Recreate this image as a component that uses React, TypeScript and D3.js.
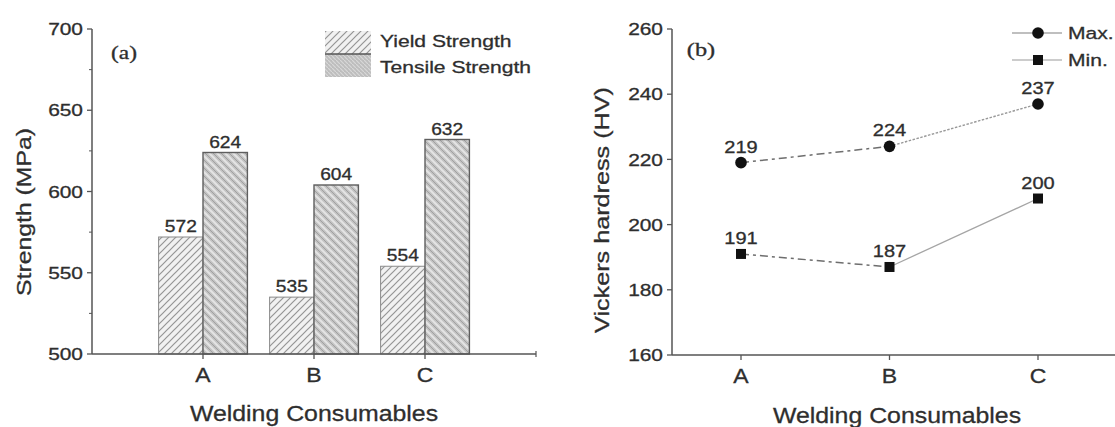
import React from "react";
import * as d3 from "d3";

// ---------- data ----------
const categories = ["A", "B", "C"];
const yieldStrength = [572, 535, 554];
const tensileStrength = [624, 604, 632];
const strengthTicks = [500, 550, 600, 650, 700];
const strengthMinorTicks = [525, 575, 625, 675];

const maxHardness = [219, 224, 237];
const minHardness = [191, 187, 208];
const maxLabels = ["219", "224", "237"];
const minLabels = ["191", "187", "200"];
const hardnessTicks = [160, 180, 200, 220, 240, 260];

const W = 1115;
const H = 427;
const SANS = "'Liberation Sans', Arial, Helvetica, sans-serif";
const SERIF = "'Liberation Serif', 'Times New Roman', serif";
const AXIS = "#555";
const TXT = "#2e2e2e";

type TProps = {
  x: number;
  y: number;
  size: number;
  sx?: number;
  rot?: number;
  anchor?: "start" | "middle" | "end";
  fill?: string;
  family?: string;
  dy?: string;
  children: React.ReactNode;
};
const T = ({ x, y, size, sx = 1, rot = 0, anchor = "middle", fill = TXT, family = SANS, dy, children }: TProps) => (
  <text
    transform={`translate(${x},${y})${rot ? ` rotate(${rot})` : ""} scale(${sx},1)`}
    fontSize={size}
    textAnchor={anchor}
    fill={fill}
    stroke={fill}
    strokeWidth={0.3}
    fontFamily={family}
    dy={dy}
  >
    {children}
  </text>
);

export default function App() {
  // ---------- panel (a) scales ----------
  const xa = d3.scaleLinear().domain([0, 4]).range([92, 536]);
  const ya = d3.scaleLinear().domain([500, 700]).range([354, 29]);
  const bw = 0.4 * (xa(2) - xa(1));

  // ---------- panel (b) scales ----------
  const xb = d3.scaleLinear().domain([1, 3]).range([741, 1038]);
  const yb = d3.scaleLinear().domain([160, 260]).range([355, 29]);
  const axisBLeft = 672;

  const lineGen = d3
    .line<[number, number]>()
    .x((d) => xb(d[0]))
    .y((d) => yb(d[1]));

  const seg = (vals: number[], i: number) =>
    lineGen([
      [i + 1, vals[i]],
      [i + 2, vals[i + 1]],
    ]) as string;

  return (
    <svg width={W} height={H} style={{ position: "absolute", left: 0, top: 0, background: "#fff" }}>
      <defs>
        <pattern id="yieldPat" patternUnits="userSpaceOnUse" width={7} height={7}>
          <rect width={7} height={7} fill="#f1f1f1" />
          <path d="M-1,1 l2,-2 M0,7 l7,-7 M6,8 l2,-2" stroke="#959595" strokeWidth={1.2} />
        </pattern>
        <pattern id="tensilePat" patternUnits="userSpaceOnUse" width={8} height={8}>
          <rect width={8} height={8} fill="#c3c3c3" />
          <path d="M0,0 l8,8 M-1,7 l2,2 M7,-1 l2,2" stroke="#e4e4e4" strokeWidth={2} />
          <path d="M4,0 l4,4 M0,4 l4,4" stroke="#a0a0a0" strokeWidth={1} />
        </pattern>
        <pattern id="tensileLeg" patternUnits="userSpaceOnUse" width={4} height={4}>
          <rect width={4} height={4} fill="#bdbdbd" />
          <path d="M0,0 l4,4" stroke="#d8d8d8" strokeWidth={1.2} />
        </pattern>
      </defs>

      {/* ================= Panel (a) ================= */}
      <g>
        {categories.map((c, i) => {
          const cx = xa(i + 1);
          return (
            <g key={c}>
              <rect
                x={cx - bw}
                y={ya(yieldStrength[i])}
                width={bw}
                height={ya(500) - ya(yieldStrength[i])}
                fill="url(#yieldPat)"
                stroke="#8a8a8a"
                strokeWidth={1}
              />
              <rect
                x={cx}
                y={ya(tensileStrength[i])}
                width={bw}
                height={ya(500) - ya(tensileStrength[i])}
                fill="url(#tensilePat)"
                stroke="#5e5e5e"
                strokeWidth={1.4}
              />
              <T x={cx - bw / 2} y={ya(yieldStrength[i]) - 5} size={16} sx={1.2}>
                {yieldStrength[i]}
              </T>
              <T x={cx + bw / 2} y={ya(tensileStrength[i]) - 5} size={16} sx={1.2}>
                {tensileStrength[i]}
              </T>
            </g>
          );
        })}

        {/* axes */}
        <line x1={xa(0)} x2={xa(0)} y1={ya(700)} y2={ya(500)} stroke={AXIS} strokeWidth={1.5} />
        <line x1={xa(0)} x2={xa(4)} y1={ya(500)} y2={ya(500)} stroke={AXIS} strokeWidth={1.5} />
        <line x1={xa(4)} x2={xa(4)} y1={ya(500) - 3} y2={ya(500) + 3} stroke={AXIS} strokeWidth={1.2} />
        {strengthTicks.map((t) => (
          <g key={t}>
            <line x1={xa(0) - 5} x2={xa(0)} y1={ya(t)} y2={ya(t)} stroke={AXIS} strokeWidth={1.3} />
            <T x={xa(0) - 9} y={ya(t)} dy="0.36em" size={17} sx={1.23} anchor="end">
              {t}
            </T>
          </g>
        ))}
        {strengthMinorTicks.map((t) => (
          <line key={t} x1={xa(0) - 3} x2={xa(0)} y1={ya(t)} y2={ya(t)} stroke={AXIS} strokeWidth={1} />
        ))}
        {categories.map((c, i) => (
          <g key={c}>
            <line x1={xa(i + 1)} x2={xa(i + 1)} y1={ya(500)} y2={ya(500) + 5} stroke={AXIS} strokeWidth={1.3} />
            <T x={xa(i + 1)} y={382} size={20} sx={1.15}>
              {c}
            </T>
          </g>
        ))}
        <T x={(xa(0) + xa(4)) / 2} y={421} size={22} sx={1.13}>
          Welding Consumables
        </T>
        <T x={31} y={212} rot={-90} size={21} sx={1.18}>
          Strength (MPa)
        </T>
        <T x={124} y={59} size={18} sx={1.3} family={SERIF}>
          (a)
        </T>

        {/* legend */}
        <rect x={325} y={31} width={46} height={23} fill="url(#yieldPat)" />
        <rect x={325} y={54} width={46} height={23} fill="url(#tensileLeg)" />
        <line x1={325} x2={371} y1={54} y2={54} stroke="#555" strokeWidth={1.5} />
        <T x={380} y={47} size={17} sx={1.24} anchor="start">
          Yield Strength
        </T>
        <T x={380} y={73} size={17} sx={1.24} anchor="start">
          Tensile Strength
        </T>
      </g>

      {/* ================= Panel (b) ================= */}
      <g>
        {/* lines */}
        <path d={seg(maxHardness, 0)} fill="none" stroke="#6e6e6e" strokeWidth={1.5} strokeDasharray="8,4,3,4" />
        <path d={seg(maxHardness, 1)} fill="none" stroke="#999" strokeWidth={1.4} strokeDasharray="2.5,1.5" />
        <path d={seg(minHardness, 0)} fill="none" stroke="#6e6e6e" strokeWidth={1.5} strokeDasharray="8,4,3,4" />
        <path d={seg(minHardness, 1)} fill="none" stroke="#a5a5a5" strokeWidth={1.3} />

        {maxHardness.map((v, i) => (
          <g key={"mx" + i}>
            <circle cx={xb(i + 1)} cy={yb(v)} r={5.8} fill="#111" />
            <T x={xb(i + 1)} y={yb(v) - 10} size={16} sx={1.25}>
              {maxLabels[i]}
            </T>
          </g>
        ))}
        {minHardness.map((v, i) => (
          <g key={"mn" + i}>
            <rect x={xb(i + 1) - 5} y={yb(v) - 5} width={10} height={10} fill="#111" />
            <T x={xb(i + 1)} y={yb(v) - 10} size={16} sx={1.25}>
              {minLabels[i]}
            </T>
          </g>
        ))}

        {/* axes */}
        <line x1={axisBLeft} x2={axisBLeft} y1={yb(260)} y2={yb(160)} stroke={AXIS} strokeWidth={1.5} />
        <line x1={axisBLeft} x2={W} y1={yb(160)} y2={yb(160)} stroke={AXIS} strokeWidth={1.5} />
        {hardnessTicks.map((t) => (
          <g key={t}>
            <line x1={axisBLeft - 5} x2={axisBLeft} y1={yb(t)} y2={yb(t)} stroke={AXIS} strokeWidth={1.3} />
            <T x={axisBLeft - 9} y={yb(t)} dy="0.36em" size={17} sx={1.23} anchor="end">
              {t}
            </T>
          </g>
        ))}
        {categories.map((c, i) => (
          <g key={c}>
            <line x1={xb(i + 1)} x2={xb(i + 1)} y1={yb(160)} y2={yb(160) + 5} stroke={AXIS} strokeWidth={1.3} />
            <T x={xb(i + 1)} y={383} size={20} sx={1.15}>
              {c}
            </T>
          </g>
        ))}
        <T x={897} y={423} size={22} sx={1.13}>
          Welding Consumables
        </T>
        <T x={609} y={210} rot={-90} size={21} sx={1.2}>
          Vickers hardress (HV)
        </T>
        <T x={701} y={56} size={18} sx={1.35} family={SERIF}>
          (b)
        </T>

        {/* legend */}
        <line x1={1012} x2={1062} y1={33} y2={33} stroke="#aaa" strokeWidth={1.3} />
        <circle cx={1038} cy={33} r={5.8} fill="#111" />
        <T x={1068} y={39} size={17} sx={1.24} anchor="start">
          Max.
        </T>
        <line x1={1012} x2={1062} y1={60} y2={60} stroke="#bbb" strokeWidth={1.3} />
        <rect x={1033} y={55} width={10} height={10} fill="#111" />
        <T x={1068} y={66} size={17} sx={1.24} anchor="start">
          Min.
        </T>
      </g>
    </svg>
  );
}
